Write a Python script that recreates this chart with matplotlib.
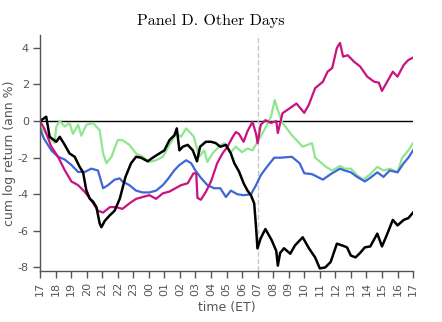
import numpy as np
import matplotlib.pyplot as plt

plt.rcParams['axes.unicode_minus'] = False

# hour labels, 17:00 ET to 17:00 ET next day
hour_labels = ['17', '18', '19', '20', '21', '22', '23', '00', '01', '02', '03', '04',
               '05', '06', '07', '08', '09', '10', '11', '12', '13', '14', '15', '16', '17']

# series: (hours since 17:00, cum log return)
black_t = [0, 0.4, 0.62, 1.05, 1.27, 1.59, 1.9, 2.23, 2.55, 2.77, 2.98, 3.2, 3.41, 3.63,
           3.84, 3.95, 4.17, 4.49, 4.8, 5.13, 5.5, 5.86, 6.18, 6.5, 6.93, 7.25, 7.68, 8.0,
           8.33, 8.65, 8.8, 8.97, 9.19, 9.5, 9.83, 10.1, 10.3, 10.67, 11.0, 11.3, 11.6,
           11.96, 12.28, 12.5, 12.8, 13.1, 13.35, 13.57, 13.78, 13.9, 13.99, 14.2, 14.5,
           14.7, 14.9, 15.2, 15.3, 15.45, 15.7, 16.1, 16.4, 16.9, 17.3, 17.7, 18.0, 18.35,
           18.7, 19.1, 19.45, 19.75, 20.0, 20.3, 20.6, 20.9, 21.25, 21.7, 22.0, 22.3, 22.7,
           23.0, 23.4, 23.7, 24.0]
black_v = [0.0, 0.24, -0.86, -1.13, -0.86, -1.3, -1.77, -1.95, -2.5, -2.8, -3.78, -4.24,
           -4.4, -4.7, -5.6, -5.8, -5.45, -5.15, -4.9, -4.25, -3.05, -2.3, -1.95, -2.0,
           -2.2, -2.0, -1.77, -1.6, -1.04, -0.77, -0.4, -1.6, -1.4, -1.3, -1.6, -2.2, -1.4,
           -1.13, -1.13, -1.2, -1.4, -1.3, -1.77, -2.3, -2.75, -3.4, -3.8, -4.05, -4.5,
           -5.8, -6.96, -6.4, -5.9, -6.2, -6.5, -7.1, -7.9, -7.2, -6.95, -7.25, -6.8, -6.35,
           -6.95, -7.45, -8.05, -8.0, -7.7, -6.7, -6.8, -6.9, -7.35, -7.45, -7.2, -6.9,
           -6.85, -6.15, -6.85, -6.25, -5.4, -5.7, -5.4, -5.3, -5.0]

green_t = [0, 0.5, 0.94, 1.05, 1.27, 1.59, 1.9, 2.12, 2.45, 2.66, 2.98, 3.41, 3.84, 4.06,
           4.27, 4.6, 5.0, 5.3, 5.75, 6.18, 6.6, 7.04, 7.47, 7.9, 8.33, 8.76, 9.08, 9.4,
           9.72, 9.9, 10.24, 10.56, 10.77, 11.1, 11.5, 11.85, 12.28, 12.6, 13.0, 13.35,
           13.67, 14.0, 14.42, 14.86, 15.1, 15.3, 15.6, 16.2, 16.9, 17.5, 17.7, 18.4, 18.8,
           19.3, 19.6, 20.0, 20.4, 20.8, 21.25, 21.7, 22.1, 22.5, 23.0, 23.3, 23.7, 24.0]
green_v = [-0.3, -0.8, -1.2, -0.3, 0.0, -0.3, -0.1, -0.7, -0.2, -0.8, -0.2, -0.1, -0.5,
           -1.77, -2.3, -1.95, -1.04, -1.04, -1.3, -1.77, -1.95, -2.23, -2.14, -1.95, -1.3,
           -0.68, -0.85, -0.4, -0.68, -0.86, -1.95, -1.6, -2.23, -1.77, -1.4, -1.2, -1.7,
           -1.4, -1.7, -1.5, -1.6, -1.13, -0.5, 0.24, 1.15, 0.6, -0.1, -0.77, -1.4, -1.2,
           -2.0, -2.5, -2.7, -2.45, -2.6, -2.6, -2.96, -3.2, -2.9, -2.5, -2.7, -2.6, -2.8,
           -2.0, -1.6, -1.2]

blue_t = [0, 0.25, 0.73, 1.16, 1.59, 2.02, 2.45, 2.88, 3.3, 3.73, 4.06, 4.38, 4.8, 5.13,
          5.3, 5.75, 6.18, 6.6, 7.04, 7.47, 7.9, 8.2, 8.65, 8.97, 9.4, 9.72, 10.0, 10.35,
          10.77, 11.2, 11.6, 11.96, 12.28, 12.7, 13.1, 13.57, 13.9, 14.2, 14.6, 15.07,
          15.5, 16.2, 16.7, 17.0, 17.5, 18.2, 18.7, 19.3, 19.6, 20.0, 20.4, 20.9, 21.25,
          21.7, 22.1, 22.5, 23.0, 23.4, 23.7, 24.0]
blue_v = [-0.4, -0.95, -1.6, -1.95, -2.1, -2.4, -2.78, -2.78, -2.6, -2.7, -3.67, -3.5, -3.2,
          -3.13, -3.3, -3.5, -3.8, -3.9, -3.9, -3.8, -3.5, -3.2, -2.68, -2.4, -2.14, -2.3,
          -2.7, -3.1, -3.5, -3.67, -3.67, -4.15, -3.8, -4.0, -4.05, -4.0, -3.5, -2.96, -2.5,
          -2.0, -2.0, -1.95, -2.3, -2.85, -2.9, -3.2, -2.9, -2.6, -2.7, -2.8, -3.05, -3.3,
          -3.1, -2.8, -3.05, -2.7, -2.8, -2.3, -2.0, -1.6]

magenta_t = [0, 0.3, 0.73, 1.16, 1.59, 2.02, 2.45, 2.88, 3.3, 3.73, 4.06, 4.5, 4.9, 5.3,
             5.75, 6.18, 6.6, 7.04, 7.47, 7.9, 8.33, 8.65, 9.08, 9.5, 9.87, 10.05, 10.13,
             10.35, 10.67, 11.0, 11.4, 11.74, 12.06, 12.4, 12.6, 12.8, 13.1, 13.35, 13.67,
             13.9, 14.0, 14.2, 14.5, 14.86, 15.2, 15.3, 15.6, 16.2, 16.5, 17.0, 17.3, 17.7,
             18.2, 18.5, 18.8, 19.1, 19.3, 19.5, 19.8, 20.2, 20.6, 21.05, 21.5, 21.8, 22.0,
             22.3, 22.7, 23.0, 23.4, 23.7, 24.0]
magenta_v = [0.0, -0.45, -1.4, -1.95, -2.68, -3.3, -3.5, -3.87, -4.33, -4.9, -5.0, -4.7,
             -4.7, -4.8, -4.5, -4.25, -4.15, -4.05, -4.25, -3.95, -3.85, -3.7, -3.5, -3.4,
             -2.86, -2.85, -4.2, -4.3, -3.87, -3.3, -2.3, -1.77, -1.4, -0.86, -0.6, -0.7,
             -1.13, -0.55, -0.04, -0.7, -1.2, -0.2, 0.05, -0.1, 0.0, -0.65, 0.43, 0.78, 0.96,
             0.45, 0.9, 1.8, 2.15, 2.7, 2.9, 4.0, 4.27, 3.52, 3.6, 3.25, 2.98, 2.43, 2.15,
             2.1, 1.65, 2.1, 2.7, 2.43, 3.07, 3.34, 3.47]

fig = plt.figure(figsize=(4.42, 3.22), dpi=100)
ax = fig.add_axes([0.0905, 0.158, 0.844, 0.733])

ax.axhline(0, color='black', lw=1.0, zorder=1)
ax.axvline(14, color='#c8c8c8', lw=1.0, ls='--', zorder=1)

ax.plot(green_t, green_v, color='#8fe68f', lw=1.6)
ax.plot(blue_t, blue_v, color='#3f66d8', lw=1.6)
ax.plot(magenta_t, magenta_v, color='#c8127f', lw=1.6)
ax.plot(black_t, black_v, color='black', lw=1.8)

ax.set_xlim(0, 24)
ax.set_ylim(-8.2, 4.7)
ax.set_xticks(np.arange(25))
ax.set_xticklabels(hour_labels, rotation=90)
ax.set_yticks([-8, -6, -4, -2, 0, 2, 4])

ax.spines['top'].set_visible(False)
ax.spines['right'].set_visible(False)
for s in ['left', 'bottom']:
    ax.spines[s].set_color('#555555')
    ax.spines[s].set_linewidth(1.0)
ax.tick_params(colors='#555555', labelsize=8, direction='out', length=5, width=1.0, pad=3)

ax.set_xlabel('time (ET)', fontsize=9, color='#555555', labelpad=3)
ax.set_ylabel('cum log return (ann %)', fontsize=9, color='#555555', labelpad=1)

fig.text(0.476, 0.935, 'Panel D. Other Days', fontsize=11.5, family='cmr10',
         ha='center', va='center')

fig.savefig('out.png', dpi=100)
